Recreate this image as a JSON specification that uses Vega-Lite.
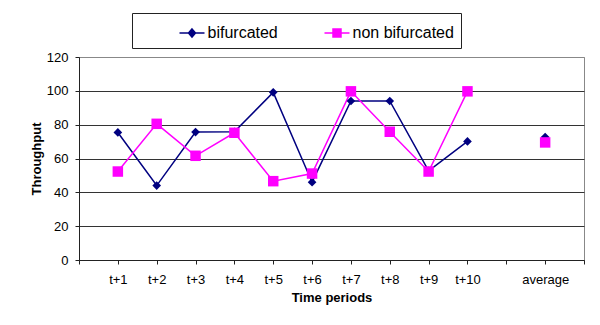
{
  "$schema": "https://vega.github.io/schema/vega-lite/v6.json",
  "width": 505,
  "height": 203,
  "autosize": {"type": "none"},
  "padding": {"left": 79, "top": 57, "right": 16, "bottom": 65},
  "background": "white",
  "config": {
    "font": "Liberation Sans",
    "view": {"stroke": "#888888", "strokeWidth": 1}
  },
  "data": {
    "values": [
      {"period": "t+1", "series": "bifurcated", "throughput": 75.4},
      {"period": "t+2", "series": "bifurcated", "throughput": 44.0},
      {"period": "t+3", "series": "bifurcated", "throughput": 75.6},
      {"period": "t+4", "series": "bifurcated", "throughput": 75.8},
      {"period": "t+5", "series": "bifurcated", "throughput": 99.1},
      {"period": "t+6", "series": "bifurcated", "throughput": 46.0},
      {"period": "t+7", "series": "bifurcated", "throughput": 94.0},
      {"period": "t+8", "series": "bifurcated", "throughput": 94.0},
      {"period": "t+9", "series": "bifurcated", "throughput": 52.7},
      {"period": "t+10", "series": "bifurcated", "throughput": 70.1},
      {"period": "average", "series": "bifurcated", "throughput": 72.7},
      {"period": "t+1", "series": "non bifurcated", "throughput": 52.3},
      {"period": "t+2", "series": "non bifurcated", "throughput": 80.5},
      {"period": "t+3", "series": "non bifurcated", "throughput": 61.6},
      {"period": "t+4", "series": "non bifurcated", "throughput": 75.2},
      {"period": "t+5", "series": "non bifurcated", "throughput": 46.6},
      {"period": "t+6", "series": "non bifurcated", "throughput": 51.1},
      {"period": "t+7", "series": "non bifurcated", "throughput": 99.7},
      {"period": "t+8", "series": "non bifurcated", "throughput": 75.8},
      {"period": "t+9", "series": "non bifurcated", "throughput": 52.3},
      {"period": "t+10", "series": "non bifurcated", "throughput": 99.7},
      {"period": "average", "series": "non bifurcated", "throughput": 69.5}
    ]
  },
  "encoding": {
    "x": {
      "field": "period",
      "type": "ordinal",
      "sort": null,
      "scale": {
        "type": "point",
        "padding": 0,
        "domain": ["", "t+1", "t+2", "t+3", "t+4", "t+5", "t+6", "t+7", "t+8", "t+9", "t+10", " ", "average", "  "]
      },
      "title": "Time periods",
      "axis": {
        "labelAngle": 0,
        "labelFontSize": 13,
        "labelColor": "#000000",
        "labelPadding": 9,
        "tickSize": 4,
        "tickColor": "#222222",
        "domainColor": "#222222",
        "grid": false,
        "titleFontSize": 13,
        "titleFontWeight": "bold",
        "titleColor": "#000000",
        "titlePadding": 5
      }
    },
    "y": {
      "field": "throughput",
      "type": "quantitative",
      "scale": {"domain": [0, 120], "nice": false},
      "title": "Throughput",
      "axis": {
        "values": [0, 20, 40, 60, 80, 100, 120],
        "labelFontSize": 13,
        "labelColor": "#000000",
        "labelPadding": 7,
        "tickSize": 4,
        "tickColor": "#222222",
        "domainColor": "#222222",
        "grid": true,
        "gridColor": {"condition": {"test": "datum.value === 120", "value": "#888888"}, "value": "#333333"},
        "gridOpacity": 1,
        "titleFontSize": 13,
        "titleFontWeight": "bold",
        "titleColor": "#000000",
        "titlePadding": 3
      }
    },
    "color": {
      "field": "series",
      "type": "nominal",
      "scale": {"domain": ["bifurcated", "non bifurcated"], "range": ["#000080", "#FF00FF"]},
      "legend": {
        "orient": "none",
        "legendX": 53,
        "legendY": -44,
        "direction": "horizontal",
        "title": null,
        "strokeColor": "#222222",
        "fillColor": "#ffffff",
        "padding": 6.5,
        "labelFont": "Liberation Sans",
        "labelFontSize": 16,
        "labelColor": "#000000",
        "symbolSize": 625,
        "symbolOffset": 40,
        "labelOffset": 2,
        "columnPadding": 5,
        "gridAlign": "none",
        "encode": {
          "symbols": {
            "update": {
              "shape": {"signal": "datum.value === 'bifurcated' ? 'M-1,0H1M0,-0.32L0.28,0L0,0.32L-0.28,0Z' : 'M-1,0H1M-0.32,-0.32H0.32V0.32H-0.32Z'"},
              "fill": {"signal": "scale('color', datum.value)"},
              "stroke": {"signal": "scale('color', datum.value)"},
              "strokeWidth": {"value": 1.5},
              "opacity": {"value": 1},
              "size": {"value": 625}
            }
          },
          "labels": {
            "update": {
              "text": {"signal": "datum.value === 'non bifurcated' ? datum.label + '         ' : datum.label"}
            }
          }
        }
      }
    }
  },
  "layer": [
    {
      "transform": [{"filter": "datum.period !== 'average'"}],
      "mark": {"type": "line", "strokeWidth": 1.5}
    },
    {
      "transform": [{"filter": "datum.series === 'bifurcated'"}],
      "mark": {"type": "point", "filled": true, "opacity": 1, "shape": "diamond", "size": 75}
    },
    {
      "transform": [{"filter": "datum.series === 'non bifurcated'"}],
      "mark": {"type": "point", "filled": true, "opacity": 1, "shape": "square", "size": 110}
    }
  ]
}
